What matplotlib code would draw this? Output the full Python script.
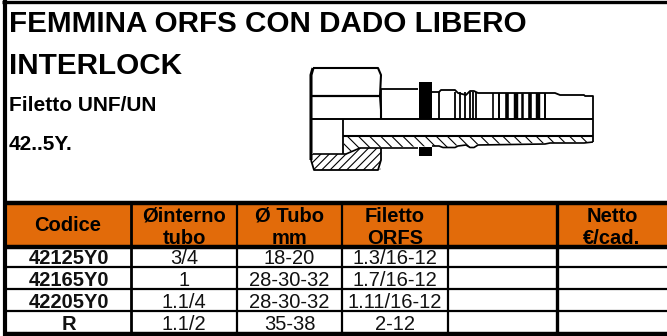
import matplotlib
matplotlib.use('Agg')
import matplotlib.pyplot as plt
from matplotlib.patches import Polygon, Rectangle

plt.rcParams['font.family'] = ['Liberation Sans', 'DejaVu Sans']
plt.rcParams['hatch.linewidth'] = 0.8

title_lines = ['FEMMINA ORFS CON DADO LIBERO', 'INTERLOCK']
sub_lines = ['Filetto UNF/UN', '42..5Y.']
headers = ['Codice', 'Øinterno\ntubo', 'Ø Tubo\nmm', 'Filetto\nORFS', '', 'Netto\n€/cad.']
codice = ['42125Y0', '42165Y0', '42205Y0', 'R']
interno = ['3/4', '1', '1.1/4', '1.1/2']
tubo = ['18-20', '28-30-32', '28-30-32', '35-38']
filetto = ['1.3/16-12', '1.7/16-12', '1.11/16-12', '2-12']

col_x = [5, 131, 237, 342, 448, 557, 667]
row_y = [203, 247, 267, 289, 311, 334]
row_base = [264, 286, 308, 330]
orange = '#E26B0A'

fig = plt.figure(figsize=(6.67, 3.36), dpi=100)
ax = fig.add_axes([0, 0, 1, 1])
ax.set_xlim(0, 667)
ax.set_ylim(336, 0)
ax.axis('off')

# outer border
ax.plot([2, 667], [1.5, 1.5], color='k', lw=2.4, solid_capstyle='butt')
ax.plot([4.5, 4.5], [0, 336], color='k', lw=3.0, solid_capstyle='butt')

# headings
ax.text(9, 32, title_lines[0], fontsize=21.3, fontweight='bold', ha='left')
ax.text(9, 74, title_lines[1], fontsize=21.3, fontweight='bold', ha='left')
ax.text(9, 111, sub_lines[0], fontsize=15, fontweight='bold', ha='left')
ax.text(9, 150, sub_lines[1], fontsize=15, fontweight='bold', ha='left')

# table
ax.add_patch(Rectangle((col_x[0], row_y[0]), col_x[-1] - col_x[0], row_y[1] - row_y[0],
                       facecolor=orange, edgecolor='none'))
for i, h in enumerate(headers):
    if h == '':
        continue
    cx = (col_x[i] + col_x[i + 1]) / 2
    parts = h.split('\n')
    if len(parts) == 1:
        ax.text(cx, 231, h, fontsize=14.5, fontweight='bold', ha='center')
    else:
        ax.text(cx, 222, parts[0], fontsize=14.5, fontweight='bold', ha='center')
        ax.text(cx, 244, parts[1], fontsize=14.5, fontweight='bold', ha='center')

for r in range(4):
    base = row_base[r]
    ax.text((col_x[0] + col_x[1]) / 2 + 1, base, codice[r], fontsize=14.5, fontweight='bold', ha='center', color='#111111')
    ax.text((col_x[1] + col_x[2]) / 2, base, interno[r], fontsize=14.5, ha='center', color='#111111')
    ax.text((col_x[2] + col_x[3]) / 2, base, tubo[r], fontsize=14.5, ha='center', color='#111111')
    ax.text((col_x[3] + col_x[4]) / 2, base, filetto[r], fontsize=14.5, ha='center', color='#111111')

for y, w in zip(row_y, [3.2, 3.2, 1.6, 1.6, 1.6, 3.2]):
    ax.plot([col_x[0], 667], [y, y], color='k', lw=w, solid_capstyle='butt')
for x, w in zip(col_x[1:-1], [2.0, 1.6, 1.6, 1.6, 2.4]):
    ax.plot([x, x], [row_y[0], row_y[-1]], color='k', lw=w, solid_capstyle='butt')

# fitting drawing
def ln(xs, ys, lw=1.3):
    ax.plot(xs, ys, color='k', lw=lw, solid_capstyle='butt', solid_joinstyle='round')

# hatched sections
ax.add_patch(Polygon([(344, 137), (592, 137), (592, 142), (545, 143), (478, 144), (474, 147), (462, 147),
                      (458, 145), (450, 148), (438, 146), (360, 148), (346, 153), (344, 150)],
                     facecolor='white', edgecolor='k', lw=0, hatch='\\\\\\'))
ax.add_patch(Polygon([(312, 154), (346, 154), (360, 148), (381, 148), (381, 168), (380, 170), (314, 170), (311, 160)],
                     facecolor='white', edgecolor='k', lw=0, hatch='////'))

# nut
ln([313, 378, 381, 380, 381, 381], [68, 68, 75, 96, 110, 119], 1.5)
ln([311, 314, 378, 381, 381], [160, 170, 170, 160, 148], 1.3)
ln([311, 381], [96, 96], 1.6)
ln([311, 311, 313], [160, 75, 68], 2.2)
ln([343, 343], [119, 154], 1.3)
ln([313, 346, 360, 418], [154, 154, 148, 148], 1.2)
ln([343, 593], [136, 136], 1.5)
ln([311, 593], [119, 119], 1.4)
ln([381, 418], [89, 89], 1.3)
ln([381, 381], [89, 119], 1.3)

# collar
ax.add_patch(Rectangle((418.5, 82), 13.5, 37, facecolor='k', edgecolor='none'))
ax.add_patch(Rectangle((418.5, 147), 13.5, 9, facecolor='k', edgecolor='none'))

# barbs and tail
ln([432, 439, 441, 455, 458, 466, 470, 474, 478, 555, 560, 584, 585, 593, 593, 593],
   [92, 92, 90, 90, 93, 95, 91, 91, 93, 93, 95, 95, 96, 96, 119, 142], 1.3)
ln([432, 439, 443, 455, 458, 466, 470, 474, 478, 545, 550, 584, 593],
   [146, 146, 147.5, 147.5, 146, 145, 147.5, 147.5, 145, 144, 143, 143, 142], 1.2)
for x in [439, 455, 460, 465, 470, 473, 476]:
    ln([x, x], [92, 119], 1.3)
for x, w in [(493, 1.2), (499, 1.4), (507, 2.6), (515.5, 3.2), (522, 1.8), (530, 2.6), (538, 3.2), (545, 1.4)]:
    ln([x, x], [93, 119], w)

fig.savefig('out.png', dpi=100)
